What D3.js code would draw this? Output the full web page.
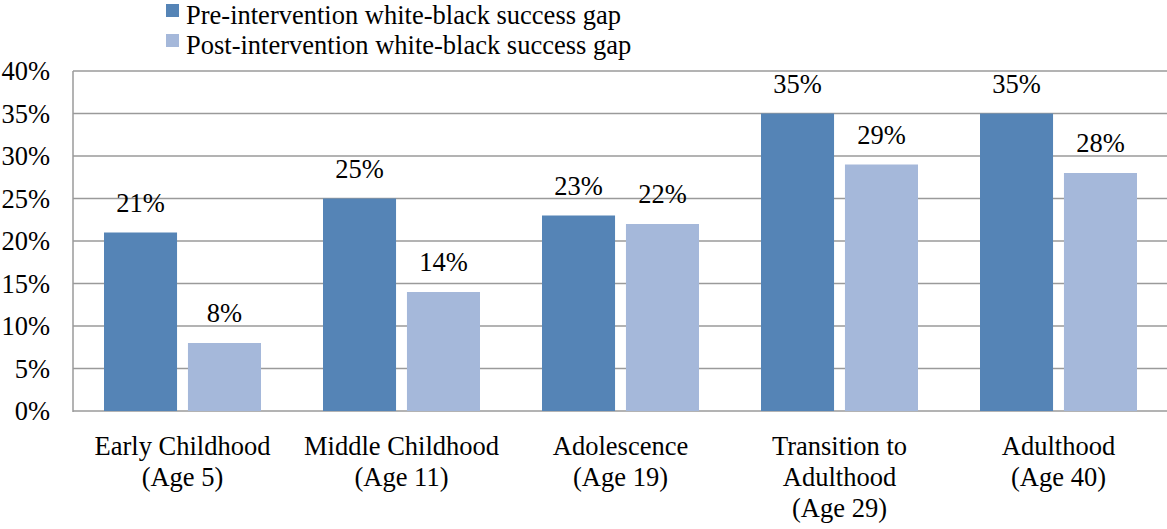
<!DOCTYPE html>
<html><head><meta charset="utf-8">
<script src="https://cdn.jsdelivr.net/npm/d3@7"></script>
<style>body{margin:0;background:#fff}svg{display:block}</style>
</head><body>
<svg id="c" width="1167" height="529" font-family="'Liberation Serif', 'Times New Roman', Times, 'DejaVu Serif', serif"></svg>
<script>
const categories = [["Early Childhood","(Age 5)"],["Middle Childhood","(Age 11)"],["Adolescence","(Age 19)"],["Transition to","Adulthood","(Age 29)"],["Adulthood","(Age 40)"]];
const seriesNames = ["Pre-intervention white-black success gap","Post-intervention white-black success gap"];
const preValues = [21,25,23,35,35];
const postValues = [8,14,22,29,28];
const yTicks = [0,5,10,15,20,25,30,35,40];
const colors = ["#5584B6","#A5B8DA"];

(function(){
const svg = d3.select("#c");
const pLeft = 73, pRight = 1168, pTop = 71, pBottom = 411;
const fs = 26.5;
const x = d3.scaleBand().domain(d3.range(categories.length)).range([pLeft,pRight]).paddingInner(0).paddingOuter(0);
const inner = d3.scaleBand().domain([0,1]).range([31, x.bandwidth()-31]).paddingInner(0.13);
const y = d3.scaleLinear().domain([0,40]).range([pBottom,pTop]);

svg.append("g").selectAll("line").data(yTicks).join("line")
  .attr("x1",pLeft).attr("x2",1167).attr("y1",d=>y(d)).attr("y2",d=>y(d))
  .attr("stroke","#9a9a9a").attr("stroke-width",1.5);
svg.append("line").attr("x1",pLeft).attr("x2",pLeft).attr("y1",pTop).attr("y2",pBottom+1)
  .attr("stroke","#9a9a9a").attr("stroke-width",1.5);

svg.append("g").selectAll("text").data(yTicks).join("text")
  .attr("x",50).attr("y",d=>y(d)+9).attr("text-anchor","end").attr("font-size",fs)
  .text(d=>d+"%");

const series = [preValues, postValues];
series.forEach((vals,si)=>{
  const g = svg.append("g");
  g.selectAll("rect").data(vals).join("rect")
    .attr("x",(d,i)=>x(i)+inner(si)).attr("width",inner.bandwidth())
    .attr("y",d=>y(d)).attr("height",d=>y(0)-y(d)).attr("fill",colors[si]);
  g.selectAll("text").data(vals).join("text")
    .attr("x",(d,i)=>x(i)+inner(si)+inner.bandwidth()/2).attr("y",d=>y(d)-21)
    .attr("text-anchor","middle").attr("font-size",fs).text(d=>d+"%");
});

categories.forEach((lines,i)=>{
  const t = svg.append("text").attr("text-anchor","middle").attr("font-size",fs);
  lines.forEach((l,j)=>t.append("tspan").attr("x",x(i)+x.bandwidth()/2).attr("y",455+j*31).text(l));
});

seriesNames.forEach((n,i)=>{
  svg.append("rect").attr("x",166).attr("y",4+i*30).attr("width",13).attr("height",13).attr("fill",colors[i]);
  svg.append("text").attr("x",186).attr("y",24+i*30).attr("font-size",fs).text(n);
});
})();
</script>
</body></html>
